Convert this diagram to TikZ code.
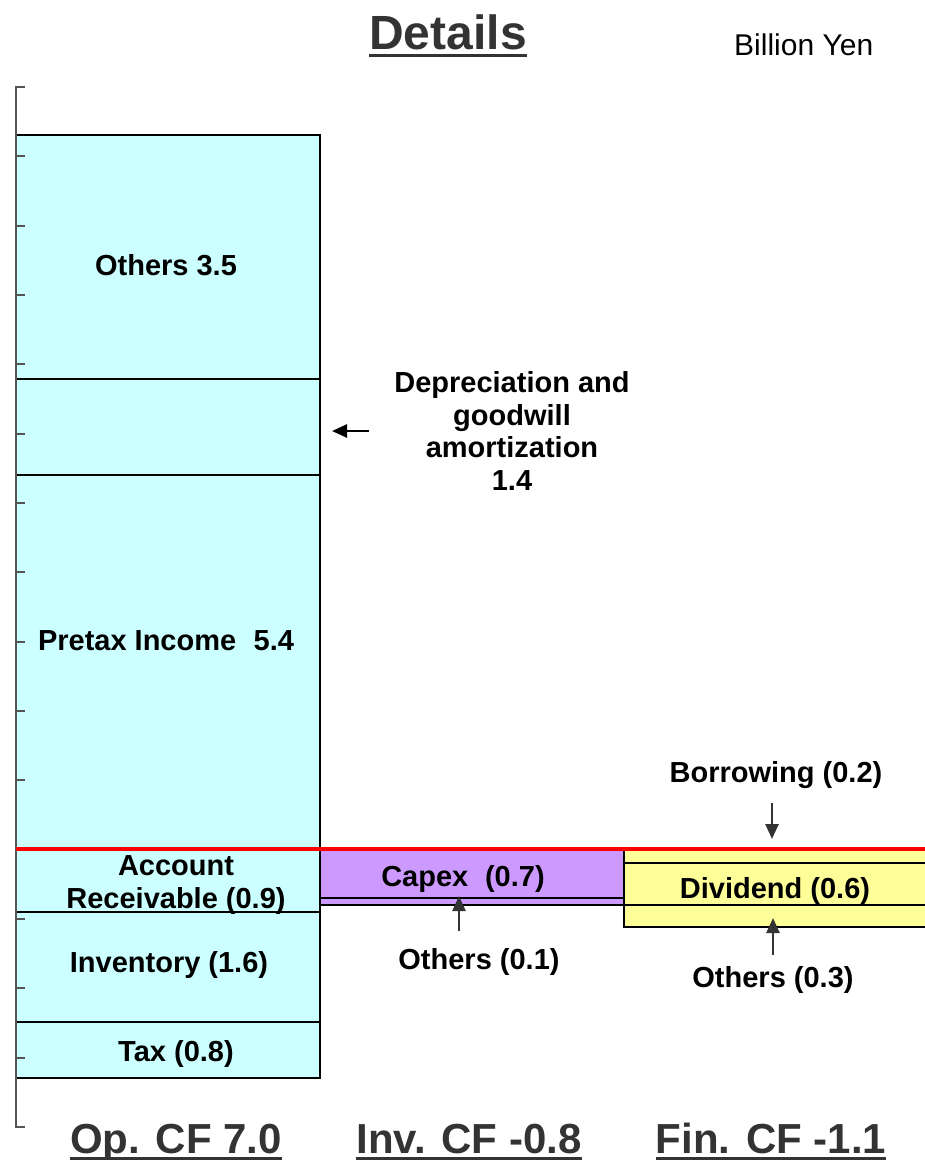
\documentclass[tikz,border=0pt]{standalone}
\usepackage{fontspec}
\setmainfont{Liberation Sans}
\usetikzlibrary{arrows.meta}
\definecolor{cyanfill}{HTML}{CCFFFF}
\definecolor{purplefill}{HTML}{CC99FF}
\definecolor{yellowfill}{HTML}{FFFF99}
\definecolor{headgray}{HTML}{333333}
\definecolor{axisgray}{HTML}{555555}
\begin{document}
\begin{tikzpicture}[x=1pt,y=-1pt,
  lbl/.style={font=\fontsize{29}{32.5}\selectfont\bfseries, text=black, align=center, inner sep=0pt},
  boxline/.style={draw=black, line width=2.5pt},
  thinline/.style={draw=black, line width=1.8pt},
  ptr/.style={-{Triangle[length=15pt,width=13pt]}, draw=headgray, fill=headgray, line width=2.5pt},
  head/.style={font=\fontsize{42}{48}\selectfont\bfseries, text=headgray, inner sep=0pt, anchor=base},
  uline/.style={draw=headgray, line width=3pt},
]
\useasboundingbox (0,0) rectangle (925,1160);

% title and unit
\node[font=\fontsize{48}{56}\selectfont\bfseries, text=headgray, inner sep=0pt, anchor=base] (title) at (448,49) {Details};
\draw[uline] ([yshift=-6pt]title.base west) -- ([yshift=-6pt]title.base east);
\node[font=\fontsize{30}{36}\selectfont, text=black, inner sep=0pt, anchor=base west] (unit) at (734,55) {Billion Yen};

% operating CF column
\fill[cyanfill] (16,135) rectangle (320,1078);
\draw[boxline] (16,135) rectangle (320,1078);
\draw[boxline] (16,379) -- (320,379);
\draw[boxline] (16,475) -- (320,475);
\draw[boxline] (16,912) -- (320,912);
\draw[boxline] (16,1022) -- (320,1022);

% investing CF
\fill[purplefill] (320,849) rectangle (624,905);
\draw[boxline] (320,849) rectangle (624,905);
\draw[thinline] (320,898) -- (624,898);

% financing CF
\fill[yellowfill] (624,849) rectangle (925,927);
\draw[boxline] (925,849) -- (624,849) -- (624,927) -- (925,927);
\draw[thinline] (624,863) -- (925,863);
\draw[thinline] (624,905) -- (925,905);

% axis
\draw[axisgray, line width=1.8pt] (25,87) -- (16,87) -- (16,1127) -- (25,1127);
\foreach \k in {1,...,14} {
  \draw[axisgray, line width=1.8pt] (16,87+69.33*\k) -- (25,87+69.33*\k);
}

% red zero line
\draw[red, line width=4pt] (16,849) -- (925,849);

% labels
\node[lbl, anchor=base] (others35) at (166,275) {Others 3.5};
\node[lbl, anchor=base] (pretax) at (166,650) {Pretax Income\hspace{0.6em}5.4};
\node[lbl] (dep) at (512,431) {Depreciation and\\goodwill\\amortization\\1.4};
\node[lbl] (ar) at (176,885) {Account\\Receivable (0.9)};
\node[lbl, anchor=base] (inv) at (169,972) {Inventory (1.6)};
\node[lbl, anchor=base] (tax) at (176,1061) {Tax (0.8)};
\node[lbl, anchor=base] (capex) at (463,886) {Capex\hspace{0.3em} (0.7)};
\node[lbl, anchor=base] (oth01) at (479,969) {Others (0.1)};
\node[lbl, anchor=base] (borrow) at (776,782) {Borrowing (0.2)};
\node[lbl, anchor=base] (divid) at (775,898) {Dividend (0.6)};
\node[lbl, anchor=base] (oth03) at (773,987) {Others (0.3)};

% arrows
\coordinate (depTail) at (369,431);
\coordinate (depTip) at (332,431);
\draw[ptr, draw=black, fill=black] (depTail) -- (depTip);
\coordinate (capTail) at (459,931);
\coordinate (capTip) at (459,896);
\draw[ptr] (capTail) -- (capTip);
\coordinate (borTail) at (772,803);
\coordinate (borTip) at (772,839);
\draw[ptr] (borTail) -- (borTip);
\coordinate (othTail) at (773,955);
\coordinate (othTip) at (773,918);
\draw[ptr] (othTail) -- (othTip);

% column headings
\node[head] (opcf) at (176,1153) {Op. CF 7.0};
\draw[uline] ([yshift=-5pt]opcf.base west) -- ([yshift=-5pt]opcf.base east);
\node[head] (invcf) at (469,1153) {Inv. CF -0.8};
\draw[uline] ([yshift=-5pt]invcf.base west) -- ([yshift=-5pt]invcf.base east);
\node[head] (fincf) at (771,1153) {Fin. CF -1.1};
\draw[uline] ([yshift=-5pt]fincf.base west) -- ([yshift=-5pt]fincf.base east);
\end{tikzpicture}
\end{document}
